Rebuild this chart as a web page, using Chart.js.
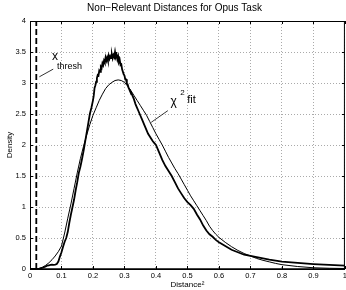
<!DOCTYPE html>
<html>
<head>
<meta charset="utf-8">
<script src="https://cdn.jsdelivr.net/npm/chart.js@4"></script>
<style>
  html, body { margin: 0; padding: 0; background: #fff; overflow: hidden; }
  #wrap { width: 346px; height: 290px; overflow: hidden; }
</style>
</head>
<body>
<div id="wrap"><canvas id="chart" width="349" height="290"></canvas></div>
<script>
// Tick labels
const xTickLabels = ['0', '0.1', '0.2', '0.3', '0.4', '0.5', '0.6', '0.7', '0.8', '0.9', '1'];
const yTickLabels = ['0', '0.5', '1', '1.5', '2', '2.5', '3', '3.5', '4'];

// Empirical distances (thick, noisy curve)
const empX = [0, 0.02, 0.03, 0.04, 0.05, 0.055, 0.06, 0.065, 0.07, 0.075, 0.08, 0.085, 0.09, 0.095,
  0.10, 0.105, 0.11, 0.115, 0.12, 0.125, 0.13, 0.135, 0.14, 0.145, 0.15, 0.155, 0.16, 0.165,
  0.17, 0.175, 0.18, 0.185, 0.19, 0.195,
  0.2, 0.2025, 0.205, 0.2075, 0.21, 0.2125, 0.215, 0.2175, 0.22, 0.2225, 0.225, 0.2275,
  0.23, 0.2325, 0.235, 0.2375, 0.24, 0.2425, 0.245, 0.2475, 0.25, 0.2525, 0.255, 0.2575,
  0.26, 0.2625, 0.265, 0.2675, 0.27, 0.2725, 0.275, 0.2775, 0.28, 0.2825, 0.285, 0.2875,
  0.29, 0.2925, 0.295, 0.2975, 0.3, 0.3025, 0.305, 0.3075, 0.31, 0.3125, 0.315, 0.3175, 0.32,
  0.325, 0.33, 0.335, 0.34, 0.345, 0.35, 0.355, 0.36, 0.365, 0.37, 0.375, 0.38, 0.385, 0.39, 0.395,
  0.40, 0.41, 0.42, 0.43, 0.44, 0.45, 0.46, 0.47, 0.48, 0.49, 0.50, 0.51, 0.52, 0.53, 0.54,
  0.55, 0.56, 0.57, 0.58, 0.59, 0.60, 0.62, 0.64, 0.66, 0.68, 0.70, 0.72, 0.74, 0.76, 0.78,
  0.80, 0.85, 0.90, 0.95, 1.0];
const empY = [0, 0, 0.005, 0.02, 0.04, 0.055, 0.06, 0.065, 0.07, 0.068, 0.072, 0.08, 0.12, 0.2,
  0.27, 0.36, 0.44, 0.5, 0.6, 0.75, 0.88, 1.0, 1.12, 1.27, 1.4, 1.55, 1.65, 1.77,
  1.9, 2.05, 2.2, 2.35, 2.5, 2.6,
  2.72, 2.80, 2.92, 2.96, 3.02, 3.08, 3.13, 3.12, 3.2, 3.18, 3.26, 3.24,
  3.32, 3.29, 3.36, 3.33, 3.41, 3.36, 3.41, 3.36, 3.44, 3.39, 3.43, 3.40,
  3.46, 3.40, 3.45, 3.42, 3.5, 3.42, 3.45, 3.38, 3.43, 3.34, 3.37, 3.29,
  3.30, 3.22, 3.22, 3.14, 3.12, 3.06, 3.06, 2.99, 2.98, 2.93, 2.90, 2.87, 2.86,
  2.80, 2.74, 2.66, 2.60, 2.54, 2.48, 2.42, 2.36, 2.30, 2.24, 2.18, 2.14, 2.10, 2.06, 2.03,
  2.0, 1.88, 1.76, 1.66, 1.58, 1.5, 1.4, 1.3, 1.22, 1.14, 1.08, 1.03, 0.97, 0.88, 0.8,
  0.7, 0.62, 0.56, 0.52, 0.47, 0.43, 0.37, 0.31, 0.27, 0.23, 0.21, 0.19, 0.17, 0.15, 0.135,
  0.12, 0.1, 0.08, 0.065, 0.055];

// Chi-square fit (thin smooth curve)
const fitX = [0, 0.02, 0.03, 0.04, 0.05, 0.06, 0.07, 0.08, 0.09, 0.10, 0.11, 0.12, 0.13, 0.14,
  0.15, 0.16, 0.17, 0.18, 0.19, 0.20, 0.21, 0.22, 0.23, 0.24, 0.25, 0.26, 0.27, 0.28, 0.29,
  0.30, 0.31, 0.32, 0.33, 0.34, 0.35, 0.36, 0.37, 0.38, 0.39, 0.40, 0.41, 0.42, 0.43, 0.44,
  0.45, 0.46, 0.47, 0.48, 0.49, 0.50, 0.51, 0.52, 0.53, 0.54, 0.55, 0.56, 0.57, 0.58, 0.59,
  0.60, 0.62, 0.64, 0.66, 0.68, 0.70, 0.72, 0.74, 0.76, 0.78, 0.80, 0.85, 0.90, 0.95, 1.0];
const fitY = [0, 0, 0.01, 0.03, 0.06, 0.1, 0.15, 0.21, 0.28, 0.37, 0.58, 0.82, 1.05, 1.3,
  1.55, 1.78, 1.98, 2.16, 2.33, 2.48, 2.6, 2.72, 2.82, 2.91, 2.97, 3.01, 3.04, 3.05, 3.04,
  3.01, 2.95, 2.88, 2.8, 2.72, 2.64, 2.56, 2.48, 2.38, 2.28, 2.18, 2.09, 2.0, 1.9, 1.8,
  1.71, 1.62, 1.54, 1.45, 1.36, 1.27, 1.18, 1.1, 1.02, 0.94, 0.86, 0.78, 0.69, 0.62, 0.56,
  0.51, 0.43, 0.36, 0.3, 0.25, 0.21, 0.17, 0.14, 0.115, 0.09, 0.07, 0.04, 0.02, 0.012, 0.008];

// Threshold line
const threshX = 0.02;
const yRange = [0, 4];

const FONT = 'Helvetica, "Liberation Sans", Arial, sans-serif';

function toPoints(xs, ys) {
  return xs.map((x, i) => ({ x: x, y: ys[i] }));
}

// Draws the box around the plot with inward ticks on all four sides
const framePlugin = {
  id: 'frame',
  afterDatasetsDraw(chart) {
    const { ctx, chartArea: a, scales } = chart;
    ctx.save();
    ctx.strokeStyle = '#000';
    ctx.lineWidth = 1;
    ctx.strokeRect(a.left + 0.5, a.top + 0.5, a.right - a.left - 1, a.bottom - a.top);
    ctx.beginPath();
    xTickLabels.forEach(l => {
      const px = Math.round(scales.x.getPixelForValue(parseFloat(l))) + 0.5;
      ctx.moveTo(px, a.bottom); ctx.lineTo(px, a.bottom - 3);
      ctx.moveTo(px, a.top); ctx.lineTo(px, a.top + 3);
    });
    yTickLabels.forEach(l => {
      const py = Math.round(scales.y.getPixelForValue(parseFloat(l))) + 0.5;
      ctx.moveTo(a.left, py); ctx.lineTo(a.left + 3, py);
      ctx.moveTo(a.right, py); ctx.lineTo(a.right - 3, py);
    });
    ctx.stroke();
    // slightly heavier bottom axis
    ctx.lineWidth = 1.5;
    ctx.beginPath();
    ctx.moveTo(a.left, a.bottom); ctx.lineTo(a.right, a.bottom);
    ctx.stroke();
    ctx.restore();
  }
};

// Text labels with leader lines
const notesPlugin = {
  id: 'notes',
  afterDatasetsDraw(chart) {
    const { ctx, scales } = chart;
    const X = v => scales.x.getPixelForValue(v);
    const Y = v => scales.y.getPixelForValue(v);
    ctx.save();
    ctx.fillStyle = '#000';
    ctx.strokeStyle = '#000';
    ctx.lineWidth = 0.8;
    ctx.textBaseline = 'alphabetic';
    ctx.textAlign = 'left';

    ctx.font = '12px ' + FONT;
    ctx.fillText('x', X(0.0696), Y(3.375));
    ctx.font = '9px ' + FONT;
    ctx.fillText('thresh', X(0.0854), Y(3.23));
    ctx.beginPath();
    ctx.moveTo(X(0.0297), Y(3.1));
    ctx.lineTo(X(0.0737), Y(3.224));
    ctx.stroke();

    ctx.font = '12px ' + FONT;
    ctx.fillText('\u03c7', X(0.446), Y(2.65));
    ctx.font = '8px ' + FONT;
    ctx.fillText('2', X(0.477), Y(2.81));
    ctx.font = '11px ' + FONT;
    ctx.fillText('fit', X(0.499), Y(2.68));
    ctx.beginPath();
    ctx.moveTo(X(0.385), Y(2.366));
    ctx.lineTo(X(0.4377), Y(2.554));
    ctx.stroke();
    ctx.restore();
  }
};

const ctx = document.getElementById('chart').getContext('2d');
new Chart(ctx, {
  type: 'line',
  data: {
    datasets: [
      {
        label: 'Empirical',
        data: toPoints(empX, empY),
        borderColor: '#000',
        borderWidth: 1.8,
        pointRadius: 0,
        tension: 0
      },
      {
        label: 'Chi-square fit',
        data: toPoints(fitX, fitY),
        borderColor: '#000',
        borderWidth: 1,
        pointRadius: 0,
        tension: 0
      },
      {
        label: 'Threshold',
        data: toPoints([threshX, threshX], yRange),
        borderColor: '#000',
        borderWidth: 1.8,
        borderDash: [6, 3],
        pointRadius: 0
      }
    ]
  },
  options: {
    responsive: false,
    animation: false,
    events: [],
    layout: { padding: { left: 0, right: 0, top: 0, bottom: 0 } },
    plugins: {
      legend: { display: false },
      tooltip: { enabled: false },
      title: {
        display: true,
        text: 'Non\u2212Relevant Distances for Opus Task',
        color: '#000',
        font: { family: FONT, size: 10, weight: 'normal' },
        padding: { top: 2, bottom: 7 }
      }
    },
    scales: {
      x: {
        type: 'linear',
        min: 0,
        max: 1,
        afterBuildTicks: s => { s.ticks = xTickLabels.map(l => ({ value: parseFloat(l) })); },
        afterFit: s => { s.height = 21; },
        ticks: {
          color: '#000',
          font: { family: FONT, size: 7.5 },
          padding: 2,
          maxRotation: 0,
          autoSkip: false,
          callback: (v, i) => xTickLabels[i]
        },
        grid: { color: '#aaa', drawTicks: false, tickLength: 0 },
        border: { display: false, dash: [1, 2] },
        title: {
          display: true,
          text: 'Distance\u00b2',
          color: '#000',
          font: { family: FONT, size: 8 },
          padding: { top: 1, bottom: 0 }
        }
      },
      y: {
        min: yRange[0],
        max: yRange[1],
        afterBuildTicks: s => { s.ticks = yTickLabels.map(l => ({ value: parseFloat(l) })); },
        afterFit: s => { s.width = 30; },
        ticks: {
          color: '#000',
          font: { family: FONT, size: 7.5 },
          padding: 4,
          autoSkip: false,
          callback: (v, i) => yTickLabels[i]
        },
        grid: { color: '#aaa', drawTicks: false, tickLength: 0 },
        border: { display: false, dash: [1, 2] },
        title: {
          display: true,
          text: 'Density',
          color: '#000',
          font: { family: FONT, size: 8 },
          padding: { top: 5, bottom: 0 }
        }
      }
    }
  },
  plugins: [framePlugin, notesPlugin]
});
</script>
</body>
</html>
